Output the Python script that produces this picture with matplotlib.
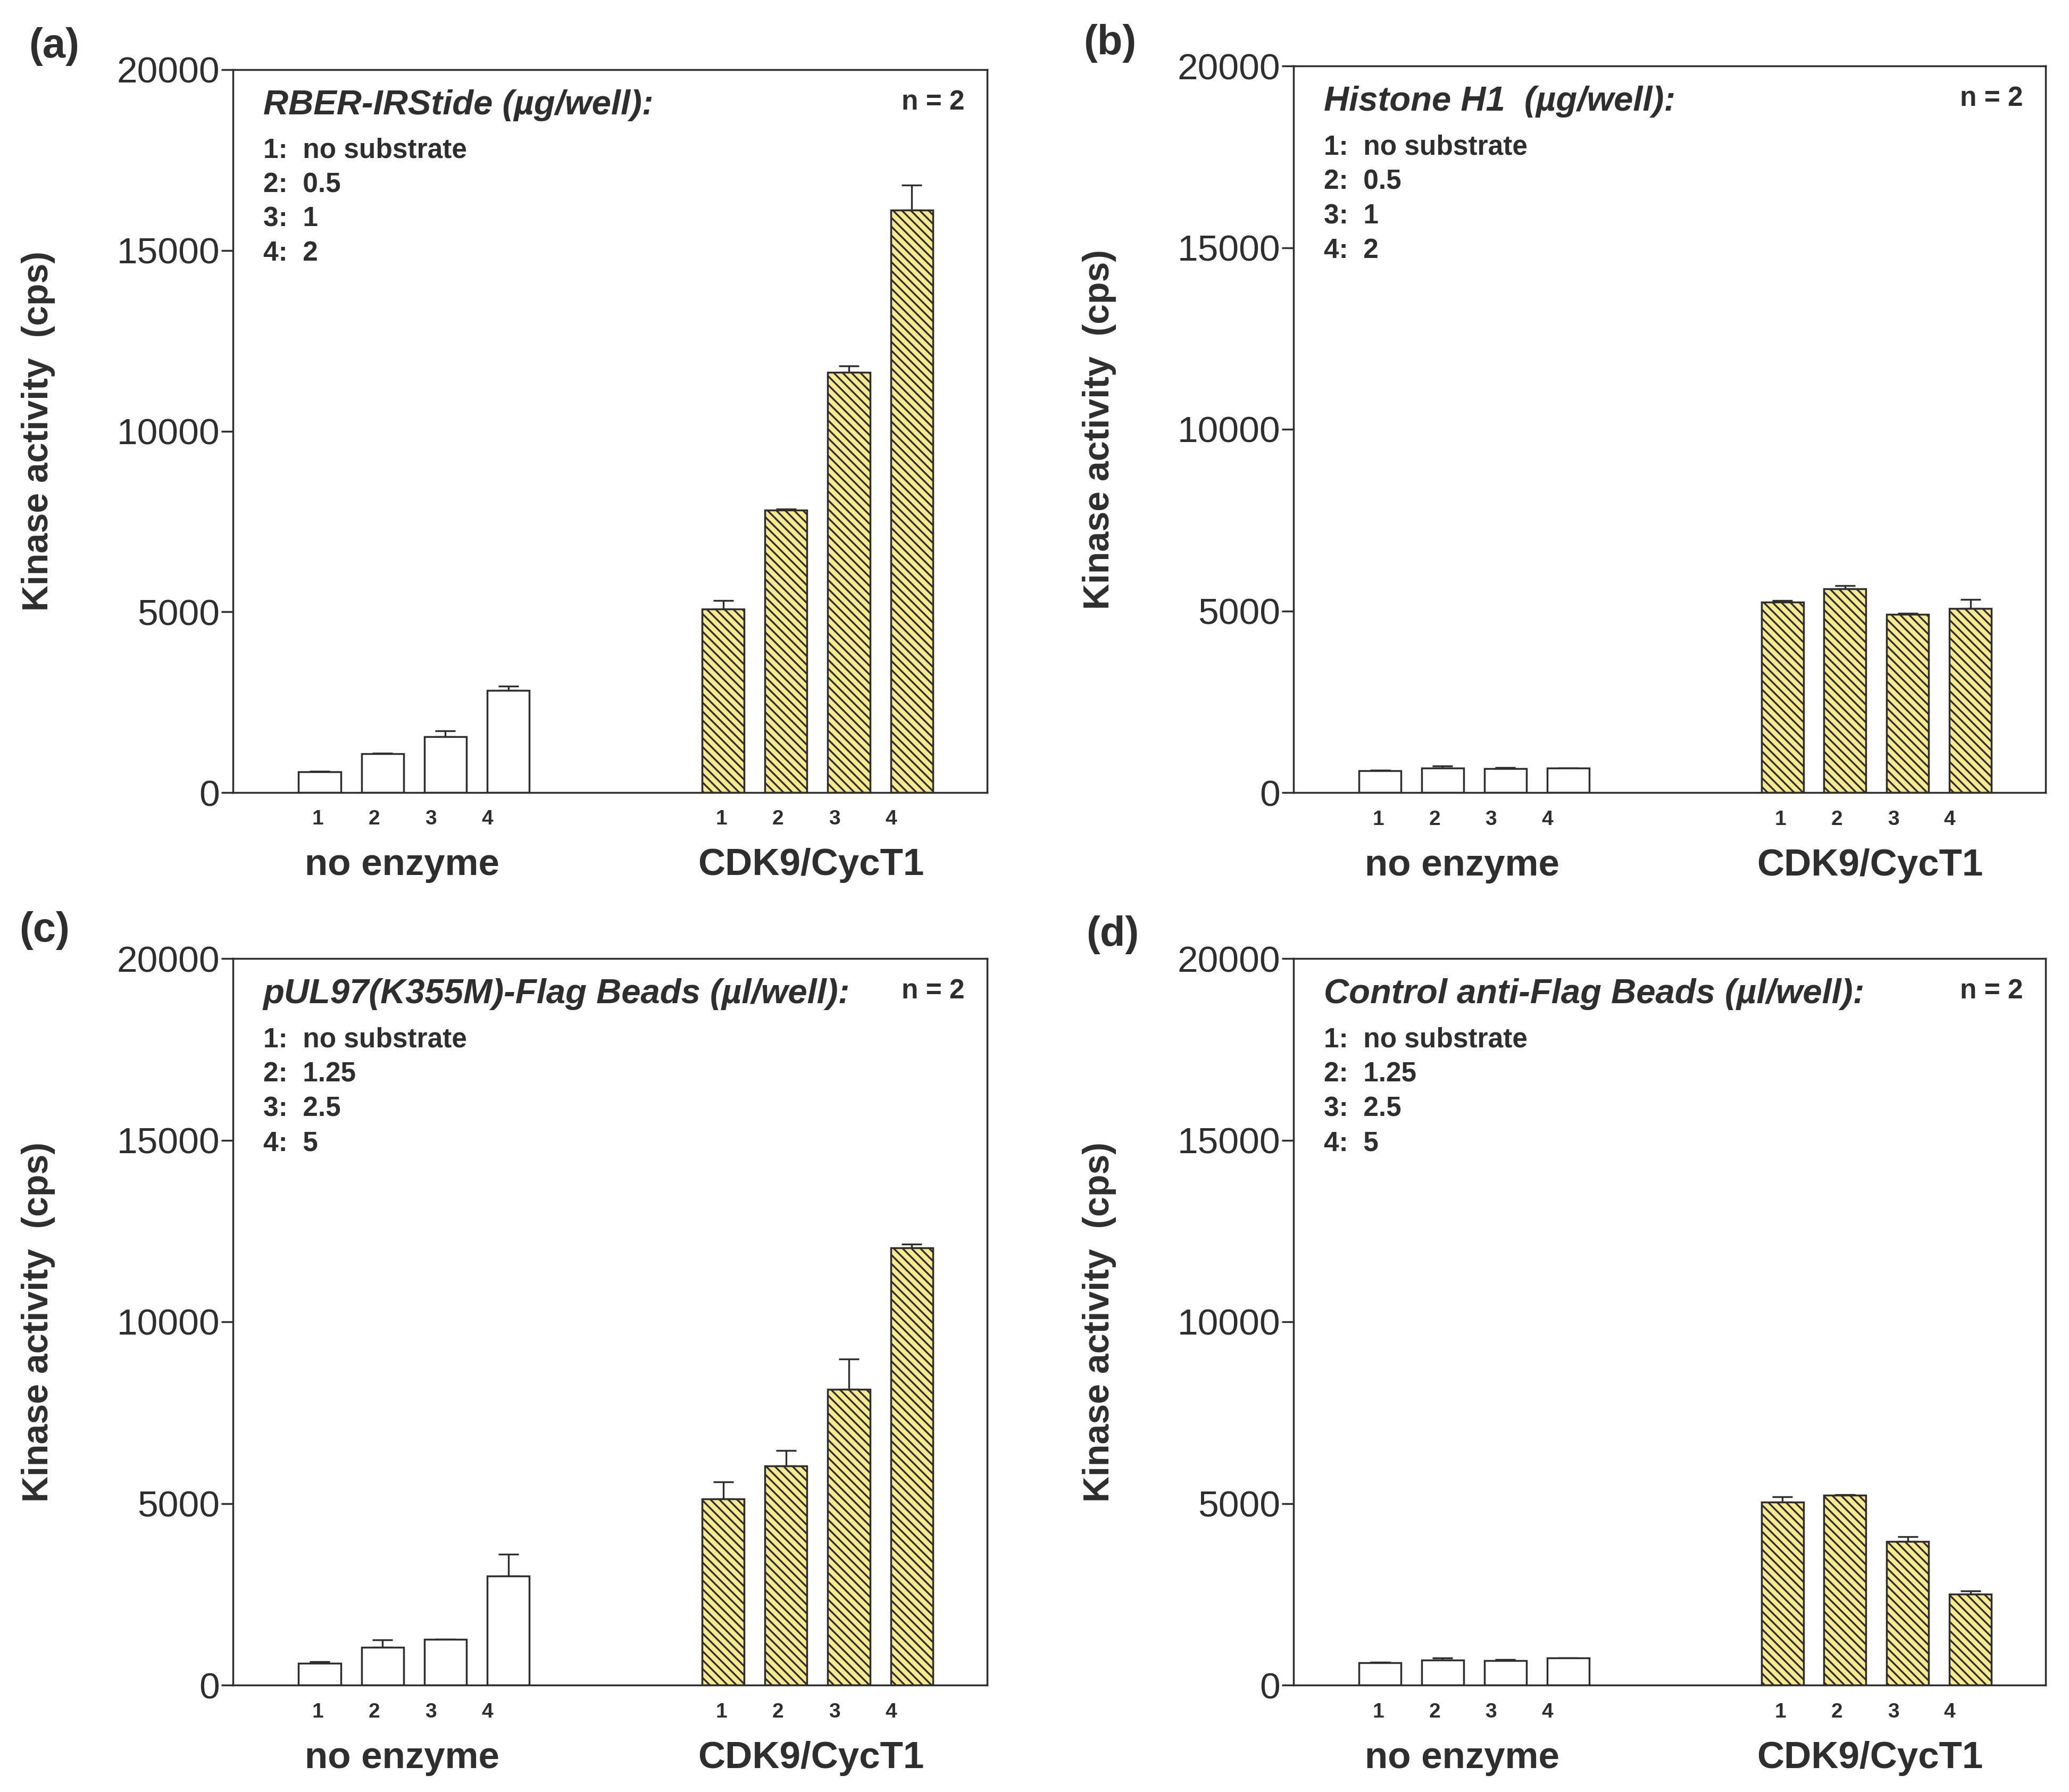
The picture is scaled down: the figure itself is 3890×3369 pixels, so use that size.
#!/usr/bin/env python3
"""Kinase activity of CDK9/CycT1 towards four substrates (four panels)"""

import numpy as np
import matplotlib
matplotlib.use("Agg")
import matplotlib.pyplot as plt

plt.rcParams['font.family'] = ['Liberation Sans', 'DejaVu Sans']
plt.rcParams['hatch.linewidth'] = 2.4

# values (cps), positive SEM only
PANELS = ["(a)", "(b)", "(c)", "(d)"]
SUBSTRATES = ["RBER-IRStide (\u00b5g/well):", "Histone H1  (\u00b5g/well):",
              "pUL97(K355M)-Flag Beads (\u00b5l/well):", "Control anti-Flag Beads (\u00b5l/well):"]
DOSES = [["no substrate", "0.5", "1", "2"],
         ["no substrate", "0.5", "1", "2"],
         ["no substrate", "1.25", "2.5", "5"],
         ["no substrate", "1.25", "2.5", "5"]]
GROUPS = ["no enzyme", "CDK9/CycT1"]

NO_ENZ = [[580, 1070, 1550, 2820],
          [600, 680, 655, 670],
          [600, 1040, 1260, 2995],
          [610, 690, 680, 740]]
NO_ENZ_ERR = [[15, 15, 150, 120],
              [15, 50, 30, 10],
              [50, 200, 0, 600],
              [20, 50, 20, 0]]
CDK9 = [[5070, 7810, 11620, 16110],
        [5240, 5610, 4900, 5070],
        [5120, 6030, 8140, 12030],
        [5030, 5220, 3960, 2500]]
CDK9_ERR = [[240, 30, 190, 690],
            [40, 80, 40, 250],
            [470, 430, 830, 110],
            [150, 20, 120, 90]]

W, H = 3890, 3369
DARK = "#2e2e2e"
YELLOW = "#f6e98e"

# axes boxes in pixels: left, top, right, bottom
BOXES = [(438, 131, 1856, 1490), (2432, 124, 3846, 1490),
         (438, 1802, 1856, 3168), (2432, 1802, 3846, 3168)]
LETTER_POS = [(102, 87), (2087, 82), (84, 1750), (2092, 1758)]

X_NONE = 1.38 + np.arange(4)
X_CDK = 7.8 + np.arange(4)


def draw_panel(fig, k):
    l, t, r, b = BOXES[k]
    ax = fig.add_axes([l / W, 1 - b / H, (r - l) / W, (b - t) / H])

    ax.bar(X_NONE, NO_ENZ[k], width=0.67, color="white", edgecolor=DARK, linewidth=2.5, zorder=2)
    ax.bar(X_CDK, CDK9[k], width=0.67, color=YELLOW, edgecolor=DARK, linewidth=2.5,
           hatch="\\\\", zorder=2)
    for xs, ys, es in ((X_NONE, NO_ENZ[k], NO_ENZ_ERR[k]), (X_CDK, CDK9[k], CDK9_ERR[k])):
        ax.errorbar(xs, ys, yerr=[np.zeros(4), es], fmt="none", ecolor=DARK,
                    elinewidth=2.4, capsize=14, capthick=2.4, zorder=1)

    ax.set_xlim(0, 12)
    ax.set_ylim(0, 20000)
    ax.set_yticks(np.arange(0, 20001, 5000))
    ax.set_yticklabels([str(v) for v in range(0, 20001, 5000)])
    ax.set_xticks([])
    ax.tick_params(axis="y", length=16, width=2.5, color=DARK, labelsize=50,
                   labelcolor=DARK, pad=2)
    for sp in ax.spines.values():
        sp.set_linewidth(2.5)
        sp.set_color(DARK)

    ax.set_ylabel("Kinase activity  (cps)", fontsize=49, fontweight="bold", color=DARK)
    ax.yaxis.set_label_coords(-0.258, 0.5)
    ax.yaxis.label.set_va("center")

    # small lane numbers and group names below the axis
    for i in range(4):
        for x0 in (X_NONE[0], X_CDK[0]):
            ax.text(x0 - 0.03 + 0.9 * i, -0.037, str(i + 1), transform=ax.get_xaxis_transform(),
                    ha="center", va="center", fontsize=28, fontweight="bold", color=DARK)
    ax.text(2.69, -0.101, GROUPS[0], transform=ax.get_xaxis_transform(), ha="center",
            va="center", fontsize=51, fontweight="bold", color=DARK)
    ax.text(9.2, -0.101, GROUPS[1], transform=ax.get_xaxis_transform(), ha="center",
            va="center", fontsize=51, fontweight="bold", color=DARK)

    # substrate key inside the box
    ax.text(0.04, 0.951, SUBSTRATES[k], transform=ax.transAxes, ha="left", va="center",
            fontsize=47, fontweight="bold", fontstyle="italic", color=DARK)
    for i, dose in enumerate(DOSES[k]):
        ax.text(0.04, 0.888 - 0.0475 * i, f"{i + 1}:  {dose}", transform=ax.transAxes,
                ha="left", va="center", fontsize=37, fontweight="bold", color=DARK)
    ax.text(0.97, 0.955, "n = 2", transform=ax.transAxes, ha="right", va="center",
            fontsize=37, fontweight="bold", color=DARK)

    lx, ly = LETTER_POS[k]
    fig.text(lx / W, 1 - ly / H, PANELS[k], ha="center", va="center", fontsize=56,
             fontweight="bold", color=DARK)


def main():
    fig = plt.figure(figsize=(W / 100, H / 100), dpi=100)
    for k in range(4):
        draw_panel(fig, k)
    fig.savefig("out.png", dpi=100, facecolor="white")


if __name__ == "__main__":
    main()
